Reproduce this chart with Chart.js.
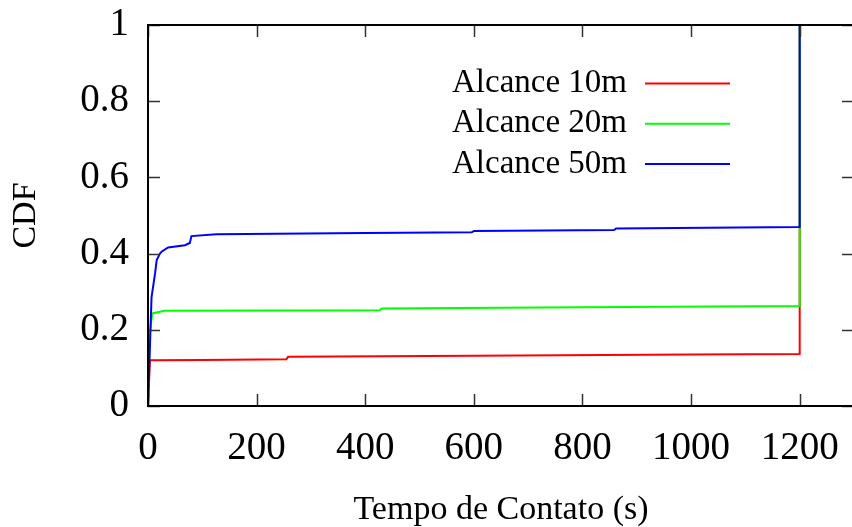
<!DOCTYPE html>
<html>
<head>
<meta charset="utf-8">
<script src="https://cdn.jsdelivr.net/npm/chart.js@4/dist/chart.umd.min.js"></script>
<style>
  html, body { margin: 0; padding: 0; background: #fff; overflow: hidden; }
  #wrap { width: 852px; height: 527px; overflow: hidden; }
  canvas { display: block; }
</style>
</head>
<body>
<div id="wrap"><canvas id="cdf" width="862" height="527"></canvas></div>
<script>
// Contact time (s) and cumulative fraction for each radio range
const seriesLabels = ['Alcance 10m', 'Alcance 20m', 'Alcance 50m'];
const seriesColors = ['#ff0000', '#00ff00', '#0000ff'];

const tempo10 = [0, 3.5, 100, 255, 258, 600, 1000, 1199, 1200];
const cdf10   = [0, 0.120, 0.121, 0.123, 0.129, 0.132, 0.135, 0.1365, 1];

const tempo20 = [0, 3, 8, 30, 427, 430, 800, 1199, 1200];
const cdf20   = [0, 0.19, 0.243, 0.250, 0.251, 0.256, 0.259, 0.2625, 1];

const tempo50 = [0, 6.5, 13, 16, 22, 25, 37, 68, 77, 80, 126, 400, 596, 600, 858, 862, 1199, 1200];
const cdf50   = [0, 0.285, 0.348, 0.383, 0.400, 0.405, 0.416, 0.422, 0.428, 0.446, 0.451, 0.454, 0.456, 0.459, 0.462, 0.466, 0.470, 1];

const xTicks = [0, 200, 400, 600, 800, 1000, 1200];
const yTicks = [0, 0.2, 0.4, 0.6, 0.8, 1];

const serif = '"Liberation Serif", "Times New Roman", serif';

function points(ts, ys) {
  return ts.map((t, i) => ({ x: t, y: ys[i] }));
}

// Frame with inward tick marks on all four sides (mirrored ticks)
const framePlugin = {
  id: 'frame',
  afterDatasetsDraw(chart) {
    const { ctx, chartArea: a, scales } = chart;
    const len = 12;
    ctx.save();
    ctx.strokeStyle = '#333';
    ctx.lineWidth = 1.5;
    ctx.beginPath();
    scales.x.ticks.forEach(t => {
      const px = Math.round(scales.x.getPixelForValue(t.value)) + 0.5;
      ctx.moveTo(px, a.bottom); ctx.lineTo(px, a.bottom - len);
      ctx.moveTo(px, a.top); ctx.lineTo(px, a.top + len);
    });
    scales.y.ticks.forEach(t => {
      const py = Math.round(scales.y.getPixelForValue(t.value)) + 0.5;
      ctx.moveTo(a.left, py); ctx.lineTo(a.left + len, py);
      ctx.moveTo(a.right, py); ctx.lineTo(a.right - len, py);
    });
    ctx.stroke();
    ctx.strokeStyle = '#000';
    ctx.lineWidth = 2;
    ctx.strokeRect(a.left, a.top, a.right - a.left, a.bottom - a.top);
    ctx.restore();
  }
};

// Key drawn inside the plot: label text, then a line sample to its right
const keyPlugin = {
  id: 'key',
  afterDraw(chart, args, opts) {
    const { ctx } = chart;
    ctx.save();
    ctx.font = opts.fontSize + 'px ' + serif;
    ctx.textAlign = 'right';
    ctx.textBaseline = 'middle';
    chart.data.datasets.forEach((ds, i) => {
      const y = opts.top + i * opts.rowGap;
      ctx.fillStyle = '#000';
      ctx.fillText(ds.label, opts.textRight, y);
      ctx.strokeStyle = ds.borderColor;
      ctx.lineWidth = 2;
      ctx.beginPath();
      ctx.moveTo(opts.sampleLeft, y);
      ctx.lineTo(opts.sampleRight, y);
      ctx.stroke();
    });
    ctx.restore();
  }
};

const datasets = [
  { label: seriesLabels[0], data: points(tempo10, cdf10), borderColor: seriesColors[0], order: 3 },
  { label: seriesLabels[1], data: points(tempo20, cdf20), borderColor: seriesColors[1], order: 2 },
  { label: seriesLabels[2], data: points(tempo50, cdf50), borderColor: seriesColors[2], order: 1 }
].map(d => Object.assign(d, { borderWidth: 2, pointRadius: 0, tension: 0, fill: false }));

new Chart(document.getElementById('cdf'), {
  type: 'line',
  data: { datasets },
  options: {
    responsive: false,
    animation: false,
    events: [],
    layout: { padding: { top: 25, right: 8, left: 0, bottom: 0 } },
    plugins: {
      legend: { display: false },
      tooltip: { enabled: false },
      key: { fontSize: 33, top: 83.5, rowGap: 40.3, textRight: 627, sampleLeft: 645, sampleRight: 730 }
    },
    scales: {
      x: {
        type: 'linear',
        min: 0,
        max: 1300,
        afterFit: s => { s.height = 121; s.paddingLeft = 0; s.paddingRight = 0; },
        afterBuildTicks: s => { s.ticks = xTicks.map(v => ({ value: v })); },
        grid: { display: false, drawTicks: false },
        border: { display: false },
        ticks: {
          color: '#000',
          font: { family: serif, size: 39 },
          padding: 19,
          maxRotation: 0,
          autoSkip: false,
          callback: v => String(v)
        },
        title: {
          display: true,
          text: 'Tempo de Contato (s)',
          color: '#000',
          font: { family: serif, size: 34, lineHeight: 1 },
          padding: { top: 0, bottom: 0 }
        }
      },
      y: {
        min: 0,
        max: 1,
        afterFit: s => { s.width = 148; s.paddingTop = 0; s.paddingBottom = 0; },
        afterBuildTicks: s => { s.ticks = yTicks.map(v => ({ value: v })); },
        grid: { display: false, drawTicks: false },
        border: { display: false },
        ticks: {
          color: '#000',
          font: { family: serif, size: 39 },
          padding: 19,
          autoSkip: false,
          callback: v => String(+v.toFixed(1))
        },
        title: {
          display: true,
          text: 'CDF',
          color: '#000',
          font: { family: serif, size: 34, lineHeight: 1 },
          padding: { top: 9, bottom: 0 }
        }
      }
    }
  },
  plugins: [framePlugin, keyPlugin]
});
</script>
</body>
</html>
